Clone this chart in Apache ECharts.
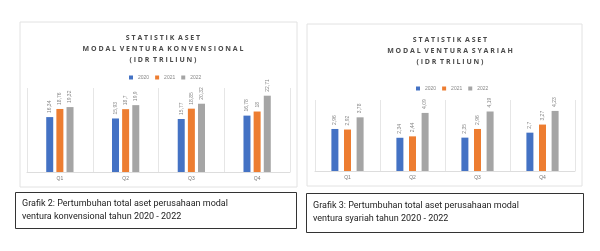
<!DOCTYPE html>
<html>
<head>
<meta charset="utf-8">
<script src="https://cdn.jsdelivr.net/npm/echarts@6/dist/echarts.min.js"></script>
<style>
  html, body { margin: 0; padding: 0; background: #fff; }
  #chart { width: 600px; height: 251px; }
</style>
</head>
<body>
<div id="chart"></div>
<script>
var quarters = ['Q1', 'Q2', 'Q3', 'Q4'];
var years = ['2020', '2021', '2022'];
// konvensional (IDR triliun)
var konv2020 = [16.34, 15.93, 15.77, 16.78];
var konv2021 = [18.76, 18.7, 18.85, 18];
var konv2022 = [19.32, 19.9, 20.32, 22.71];
// syariah (IDR triliun)
var syar2020 = [2.96, 2.34, 2.35, 2.7];
var syar2021 = [2.92, 2.44, 2.96, 3.27];
var syar2022 = [3.78, 4.09, 4.19, 4.23];

var colors = ['#4472C4', '#ED7D31', '#A5A5A5'];

var chart = echarts.init(document.getElementById('chart'));

function fmt(p) {
  return String(p.value).replace('.', ',');
}

function mkSeries(name, data, idx, gap) {
  return {
    name: name,
    type: 'bar',
    data: data,
    xAxisIndex: idx,
    yAxisIndex: idx,
    barWidth: 7,
    barGap: gap,
    itemStyle: { color: colors[years.indexOf(name)] },
    label: {
      show: true,
      position: 'top',
      rotate: 90,
      align: 'left',
      verticalAlign: 'middle',
      distance: 4,
      fontSize: 5,
      color: '#888',
      formatter: fmt
    }
  };
}

var titleStyle = { fontSize: 7, fontWeight: 'bold', color: '#4a4a4a', lineHeight: 11, fontFamily: 'Open Sans' };

chart.setOption({
  animation: false,
  graphic: [
    { type: 'rect', shape: { x: 20, y: 22, width: 277, height: 165 }, style: { fill: '#fff', stroke: '#e2e2e2', lineWidth: 1 }, z: -10 },
    { type: 'rect', shape: { x: 307, y: 24, width: 275, height: 162 }, style: { fill: '#fff', stroke: '#e2e2e2', lineWidth: 1 }, z: -10 },
    { type: 'rect', shape: { x: 15.5, y: 192.5, width: 281, height: 36 }, style: { fill: '#fff', stroke: '#333', lineWidth: 1 } },
    { type: 'rect', shape: { x: 306.5, y: 193.5, width: 277, height: 39 }, style: { fill: '#fff', stroke: '#333', lineWidth: 1 } },
    { type: 'text', x: 22, y: 197, style: { text: 'Grafik 2: Pertumbuhan total aset perusahaan modal\nventura konvensional tahun 2020 - 2022', fontSize: 9, lineHeight: 13, fill: '#222', fontFamily: 'Roboto' } },
    { type: 'text', x: 313, y: 199, style: { text: 'Grafik 3: Pertumbuhan total aset perusahaan modal\nventura syariah tahun 2020 - 2022', fontSize: 9, lineHeight: 13, fill: '#222', fontFamily: 'Roboto' } }
  ],
  title: [
    { text: 'S T A T I S T I K  A S E T\nM O D A L  V E N T U R A  K O N V E N S I O N A L\n( I D R  T R I L I U N )', left: 158, top: 27, textAlign: 'center', textStyle: titleStyle },
    { text: 'S T A T I S T I K  A S E T\nM O D A L  V E N T U R A  S Y A R I A H\n( I D R  T R I L I U N )', left: 445, top: 29, textAlign: 'center', textStyle: titleStyle }
  ],
  legend: [
    { data: years, left: 124, top: 70, itemWidth: 4, itemHeight: 4, itemGap: 6, icon: 'rect',
      textStyle: { fontSize: 5, color: '#888' } },
    { data: years, left: 411, top: 81, itemWidth: 4, itemHeight: 4, itemGap: 6, icon: 'rect',
      textStyle: { fontSize: 5, color: '#888' } }
  ],
  grid: [
    { left: 27, right: 310, top: 88, bottom: 79 },
    { left: 315, right: 25, top: 100, bottom: 80 }
  ],
  xAxis: [0, 1].map(function (i) {
    return {
      type: 'category', gridIndex: i, data: quarters,
      axisLine: { lineStyle: { color: '#ddd' } },
      axisTick: { show: false },
      axisLabel: { fontSize: 5, color: '#777', margin: 4 },
      splitLine: { show: true, lineStyle: { color: '#e6e6e6' } }
    };
  }),
  yAxis: [
    { type: 'value', gridIndex: 0, min: 0, max: 25, show: false },
    { type: 'value', gridIndex: 1, min: 0, max: 5, show: false }
  ],
  series: [
    mkSeries('2020', konv2020, 0, '45%'),
    mkSeries('2021', konv2021, 0, '45%'),
    mkSeries('2022', konv2022, 0, '45%'),
    mkSeries('2020', syar2020, 1, '80%'),
    mkSeries('2021', syar2021, 1, '80%'),
    mkSeries('2022', syar2022, 1, '80%')
  ]
});
</script>
</body>
</html>
